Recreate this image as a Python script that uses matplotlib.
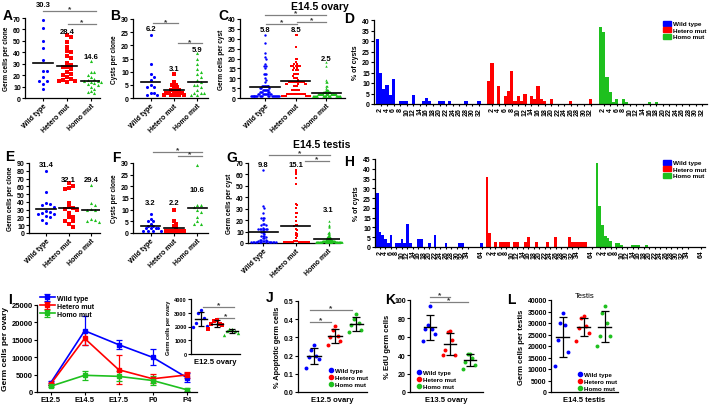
import numpy as np
import matplotlib
matplotlib.use('Agg')
import matplotlib.pyplot as plt
from matplotlib.patches import Patch
from matplotlib.lines import Line2D

plt.rcParams['font.family'] = ['Liberation Sans', 'DejaVu Sans']
plt.rcParams['font.weight'] = 'bold'
plt.rcParams['axes.labelweight'] = 'bold'
plt.rcParams['axes.linewidth'] = 0.9

# ---------------- data ----------------
groups = ['Wild type', 'Hetero mut', 'Homo mut']

# A  E14.5 ovary: germ cells per clone
a_wt = [68, 61, 50, 44, 33, 24, 24, 18, 15, 15, 12, 8]
a_het = [55, 53, 49, 45, 41, 40, 37, 35, 31, 29, 27, 27, 25, 23, 21, 20, 18, 17, 16, 15, 15, 14]
a_homo = [32, 23, 23, 20, 18, 17, 16, 15, 15, 14, 14, 13, 12, 11, 10, 8, 6, 5, 4]
a_means = [30.3, 28.4, 14.6]

# B  E14.5 ovary: cysts per clone
b_wt = [24, 13, 9, 8, 7, 5, 4, 4, 2, 2, 1, 1]
b_het = [9, 6, 5, 5, 4, 4, 3, 3, 3, 3, 2, 2, 2, 2, 2, 2, 2, 1, 1, 1, 1, 1, 1]
b_homo = [17, 15, 13, 11, 10, 9, 8, 7, 6, 5, 5, 4, 3, 2, 2, 2, 1, 1]
b_means = [6.2, 3.1, 5.9]

# C / D  E14.5 ovary: number of cysts of each size (germ cells per cyst 1..32)
cyst_sizes = [1, 2, 3, 4, 5, 6, 7, 8, 9, 10, 11, 12, 13, 14, 15, 16,
              17, 18, 19, 20, 21, 22, 23, 24, 25, 26, 27, 28, 29, 30, 31, 32]
c_wt_counts = [21, 10, 5, 6, 3, 8, 0, 1, 1, 1, 0, 3, 0, 0, 1, 2,
               1, 0, 0, 1, 1, 0, 1, 0, 0, 0, 0, 1, 0, 0, 0, 1]
c_het_counts = [9, 16, 0, 7, 0, 3, 5, 13, 1, 3, 1, 4, 0, 3, 2, 7,
                2, 1, 0, 2, 0, 0, 0, 0, 0, 1, 0, 0, 0, 0, 0, 2]
c_homo_counts = [31, 29, 11, 5, 1, 2, 0, 2, 1, 0, 0, 0, 0, 0, 0, 1,
                 0, 1, 0, 0, 0, 0, 0, 0, 0, 0, 0, 0, 0, 0, 0, 0]
c_means = [5.8, 8.5, 2.5]
d_tick_values = [2, 4, 6, 8, 10, 12, 14, 16, 18, 20, 22, 24, 26, 28, 30, 32]

# E  E14.5 testis: germ cells per clone
e_wt = [80, 53, 38, 37, 36, 33, 28, 27, 26, 25, 24, 22, 20, 17, 13]
e_het = [64, 60, 58, 57, 39, 33, 32, 31, 30, 26, 21, 20, 16, 15, 12, 8]
e_homo = [62, 38, 36, 31, 30, 29, 18, 17, 15, 14]
e_means = [31.4, 32.1, 29.4]

# F  E14.5 testis: cysts per clone
f_wt = [8, 6, 5, 5, 4, 3, 3, 2, 2, 2, 2, 1, 1, 1, 1]
f_het = [10, 5, 4, 3, 2, 1, 1, 1, 1, 1, 1, 1, 1, 1]
f_homo = [29, 12, 12, 11, 10, 9, 7, 5, 4, 4]
f_means = [3.2, 2.2, 10.6]

# G  E14.5 testis: germ cells per cyst (value, number of cysts)
g_wt_vals = [1, 2, 3, 4, 5, 6, 8, 9, 10, 11, 12, 13, 16, 17, 20, 22, 26, 31, 32, 64]
g_wt_counts = [14, 4, 3, 2, 1, 3, 1, 1, 2, 1, 6, 1, 2, 2, 1, 3, 1, 1, 1, 1]
g_het_vals = [1, 2, 4, 6, 7, 8, 9, 11, 12, 15, 16, 19, 23, 26, 31, 33, 34, 52, 57, 60, 62, 64]
g_het_counts = [15, 3, 1, 1, 1, 1, 1, 1, 1, 1, 2, 1, 1, 2, 1, 1, 1, 1, 1, 1, 1, 1]
g_homo_vals = [1, 2, 3, 4, 5, 6, 8, 9, 10, 14, 15, 16, 19]
g_homo_counts = [47, 23, 12, 6, 5, 3, 2, 2, 1, 1, 1, 1, 1]
g_means = [9.8, 15.1, 3.1]

# H  E14.5 testis: % of cysts per size bin (bins 1..38, last bin = 64)
h_wt_pct = [27.5, 7.8, 5.9, 3.9, 2.0, 5.9, 0, 2.0, 2.0, 3.9, 2.0, 11.8, 2.0, 0, 0, 3.9, 3.9, 0, 0, 2.0,
            0, 5.9, 0, 0, 0, 2.0, 0, 0, 0, 0, 2.0, 2.0, 0, 0, 0, 0, 0, 0, 2.0]
h_het_pct = [35.6, 7.3, 0, 2.4, 0, 2.4, 2.4, 2.4, 2.4, 0, 2.4, 2.4, 0, 0, 2.4, 5.0, 0, 0, 2.4, 0,
             0, 0, 2.4, 0, 0, 5.0, 0, 0, 0, 0, 5.0, 2.4, 2.4, 2.4, 2.4, 2.4, 2.4, 0, 0]
h_homo_pct = [43.2, 21.0, 11.1, 5.6, 4.4, 3.2, 0, 1.9, 1.9, 0.9, 0, 0, 0, 0.9, 0.9, 0.9, 0, 0, 0.9, 0,
              0, 0, 0, 0, 0, 0, 0, 0, 0, 0, 0, 0, 0, 0, 0, 0, 0, 0, 0]
h_tick_labels = ['2', '4', '6', '8', '10', '12', '14', '16', '18', '20', '22', '24', '26', '28',
                 '30', '32', '34', '64']

# I  germ cells per ovary over time
i_times = ['E12.5', 'E14.5', 'E17.5', 'P0', 'P4']
i_wt = [2600, 17600, 13600, 9950, 4150]
i_wt_err = [500, 4200, 1250, 2300, 1300]
i_het = [2250, 15400, 6400, 3800, 4900]
i_het_err = [350, 1900, 4100, 1300, 950]
i_homo = [1650, 4800, 4500, 3300, 650]
i_homo_err = [300, 1300, 1400, 1200, 500]
# I inset  E12.5 ovary
ins_wt = [3200, 3000, 2600, 2250, 2050, 2000]
ins_het = [2500, 2400, 2200, 2150, 2100, 1800]
ins_homo = [1850, 1800, 1700, 1650, 1550, 1400]

# J  % apoptotic germ cells, E12.5 ovary
j_wt = [0.26, 0.23, 0.20, 0.19, 0.18, 0.13]
j_het = [0.36, 0.34, 0.31, 0.30, 0.28, 0.26]
j_homo = [0.43, 0.40, 0.38, 0.37, 0.34, 0.33]

# K  % EdU germ cells, E13.5 ovary
k_wt = [94, 73, 68, 68, 63, 55]
k_het = [66, 65, 56, 46, 40, 40]
k_homo = [41, 41, 37, 33, 29, 25]

# L  germ cells per testis, E14.5 testis
l_wt = [34200, 29850, 29000, 22460, 17390, 11300]
l_het = [33040, 32030, 28700, 27680, 25800, 22170]
l_homo = [37390, 34200, 30140, 24350, 24350, 20000]

# ---------------- style ----------------
BLUE = '#0000ff'
RED = '#ff0000'
GREEN = '#1ec01e'
COLORS = [BLUE, RED, GREEN]
MARKERS = ['o', 's', '^']
SIGC = '#808080'

FW, FH = 712, 406
fig = plt.figure(figsize=(FW / 100, FH / 100), dpi=100)


def px_axes(x0, y0, x1, y1):
    return fig.add_axes([x0 / FW, 1 - y1 / FH, (x1 - x0) / FW, (y1 - y0) / FH])


def style(ax, ls=5):
    for s in ('top', 'right'):
        ax.spines[s].set_visible(False)
    ax.tick_params(direction='out', length=2, width=0.8, labelsize=ls, pad=1)


def swarm(vals, ppy, d, maxw):
    vals = np.asarray(vals, float)
    ys = vals * ppy
    order = np.argsort(-vals, kind='stable')
    placed = []
    offs = np.zeros(len(vals))
    for idx in order:
        y = ys[idx]
        k = 0
        while True:
            c = 0.0 if k == 0 else ((k + 1) // 2) * d * (1 if k % 2 else -1)
            if all((c - px) ** 2 + (y - py) ** 2 >= 0.95 * d * d for px, py in placed):
                break
            k += 1
        placed.append((c, y))
        offs[idx] = c
    m = np.abs(offs).max()
    if m > maxw:
        offs *= maxw / m
    return offs


def sig(ax, x1, x2, y, star_dy=0.0):
    ax.plot([x1, x2], [y, y], color=SIGC, lw=0.9, clip_on=False, zorder=2)
    ax.text((x1 + x2) / 2, y + star_dy, '*', ha='center', va='center', fontsize=6,
            color='#333333', clip_on=False)


def dot_panel(box, series, means, ylim, yticks, ylabel, label_y, xlim,
              d=4.0, maxw=10, s=5, hw=0.42):
    x0, y0, x1, y1 = box
    ax = px_axes(*box)
    ppx = (x1 - x0) / (xlim[1] - xlim[0])
    ppy = (y1 - y0) / (ylim[1] - ylim[0])
    for i, vals in enumerate(series):
        vals = np.asarray(vals, float)
        off = swarm(vals, ppy, d, maxw) / ppx
        ax.scatter(i + off, vals, s=s, marker=MARKERS[i], c=COLORS[i], linewidths=0,
                   clip_on=False, zorder=3)
        ax.plot([i - hw, i + hw], [means[i]] * 2, color='k', lw=1.2, zorder=4)
        ax.text(i, label_y[i], f'{means[i]:.1f}', ha='center', va='center', fontsize=5.5,
                clip_on=False)
    ax.set_xlim(*xlim)
    ax.set_ylim(*ylim)
    ax.set_yticks(yticks)
    ax.set_xticks(range(3))
    ax.set_xticklabels(groups, rotation=45, ha='right', rotation_mode='anchor')
    ax.set_ylabel(ylabel, fontsize=4.7, labelpad=2)
    style(ax)
    return ax


def hist_panel(box, pct_list, offset, npos, ticks, ticklabels, ylim, yticks, xlim, tfs=3.3):
    ax = px_axes(*box)
    for g, pct in enumerate(pct_list):
        x = g * offset + np.arange(1, npos + 1)
        ax.bar(x, pct, width=1.0, color=COLORS[g], linewidth=0)
    tpos, tlab = [], []
    for g in range(3):
        tpos += [g * offset + t for t in ticks]
        tlab += ticklabels
    ax.set_xticks(tpos)
    ax.set_xticklabels(tlab, rotation=90, fontsize=tfs)
    ax.set_xlim(*xlim)
    ax.set_ylim(*ylim)
    ax.set_yticks(yticks)
    ax.set_ylabel('% of cysts', fontsize=5, labelpad=2)
    style(ax)
    ax.tick_params(axis='x', length=1.5, pad=0.5)
    handles = [Patch(facecolor=c, edgecolor=c) for c in COLORS]
    ax.legend(handles, groups, loc='upper left', fontsize=4.6, frameon=False,
              handlelength=1.3, handleheight=0.9, handletextpad=0.3, labelspacing=0.1,
              borderaxespad=0, bbox_to_anchor=(660 / FW, 1 - (box[1] - 2) / FH),
              bbox_transform=fig.transFigure)
    return ax


# ---------------- row 1 : E14.5 ovary ----------------
axA = dot_panel((25, 19, 100, 99), [a_wt, a_het, a_homo], a_means, (0, 70),
                range(0, 71, 10), 'Germ cells per clone', [82.2, 58.6, 36.7], (-0.75, 2.38))
sig(axA, 0.0, 2.2, 76.4, 1.6)
sig(axA, 1.05, 2.2, 64.7, 1.6)

axB = dot_panel((133, 20, 208, 99), [b_wt, b_het, b_homo], b_means, (0, 30),
                range(0, 31, 5), 'Cysts per clone', [26.5, 11.3, 18.3], (-0.75, 2.45), d=3.4)
sig(axB, 0.1, 1.15, 28.4, 0.7)
sig(axB, 1.15, 2.2, 20.8, 0.7)


def expand(vals, counts):
    return np.repeat(np.asarray(vals, float), counts)


c_series = [expand(cyst_sizes, c) for c in (c_wt_counts, c_het_counts, c_homo_counts)]
axC = dot_panel((240, 20, 345, 99), c_series, c_means, (0, 40), range(0, 41, 5),
                'Germ cells per cyst', [34.6, 34.6, 20.2], (-0.8, 2.6), d=2.2, maxw=14, s=3,
                hw=0.48)
sig(axC, 0.0, 2.0, 42.0, 1.0)
sig(axC, 0.04, 1.03, 37.5, 1.0)
sig(axC, 1.03, 2.0, 38.7, 1.0)

d_pct = [np.asarray(c, float) / np.sum(c) * 100 for c in (c_wt_counts, c_het_counts, c_homo_counts)]
axD = hist_panel((374, 21, 707, 105), d_pct, 34, 32, d_tick_values,
                 [str(v) for v in d_tick_values], (0, 40), range(0, 41, 5), (0, 101.5))

fig.text(320 / FW, 1 - 7 / FH, 'E14.5 ovary', ha='center', va='center', fontsize=7.5)

# ---------------- row 2 : E14.5 testis ----------------
axE = dot_panel((29, 164, 100, 234), [e_wt, e_het, e_homo], e_means, (0, 90),
                range(0, 91, 10), 'Germ cells per clone', [88.7, 68.2, 68.2], (-0.75, 2.38))

axF = dot_panel((133, 164, 208, 234), [f_wt, f_het, f_homo], f_means, (0, 30),
                range(0, 31, 5), 'Cysts per clone', [13.1, 13.1, 18.8], (-0.75, 2.45), d=3.4)
sig(axF, 0.1, 2.2, 34.8, 0.8)
sig(axF, 1.15, 2.2, 33.0, 0.8)

g_series = [expand(v, c) for v, c in ((g_wt_vals, g_wt_counts), (g_het_vals, g_het_counts),
                                       (g_homo_vals, g_homo_counts))]
axG = dot_panel((248, 164, 340, 244), g_series, g_means, (0, 70), range(0, 71, 10),
                'Germ cells per cyst', [69.1, 69.1, 29.1], (-0.45, 2.35), d=2.2, maxw=13, s=3,
                hw=0.45)
sig(axG, 0.2, 2.05, 77.0, 1.8)
sig(axG, 1.28, 2.0, 72.0, 1.8)

h_ticks = [2, 4, 6, 8, 10, 12, 14, 16, 18, 20, 22, 24, 26, 28, 30, 32, 34, 39]
axH = hist_panel((375, 160, 705, 248), [h_wt_pct, h_het_pct, h_homo_pct], 40, 39, h_ticks,
                 h_tick_labels, (0, 45), range(0, 46, 5), (0.2, 120.3), tfs=2.9)

fig.text(322 / FW, 1 - 145 / FH, 'E14.5 testis', ha='center', va='center', fontsize=7.5)

# ---------------- row 3 ----------------
axI = px_axes(37, 306, 197, 393)
xi = np.arange(len(i_times))
for vals, errs, col, lab in ((i_wt, i_wt_err, BLUE, groups[0]), (i_het, i_het_err, RED, groups[1]),
                             (i_homo, i_homo_err, GREEN, groups[2])):
    axI.errorbar(xi, vals, yerr=errs, color=col, marker='s', ms=2.5, lw=1.2, capsize=2,
                 elinewidth=0.9, capthick=0.9, label=lab)
axI.set_xlim(-0.4, 4.3)
axI.set_ylim(0, 25000)
axI.set_yticks(range(0, 25001, 5000))
axI.set_xticks(xi)
axI.set_xticklabels(i_times)
axI.set_ylabel('Germ cells per ovary', fontsize=6, labelpad=2)
style(axI, 5.5)
axI.legend(loc='upper left', fontsize=5, frameon=False, handlelength=2.2, handletextpad=0.3,
           labelspacing=0.15, borderaxespad=0, bbox_to_anchor=(37 / FW, 1 - 293 / FH),
           bbox_transform=fig.transFigure)


def sd_panel(box, series, ylim, yticks, ylabel, xlim, xlabel, marker_list=None, s=8,
             hw=0.32, cap=2.8, dx=0.12, ls=5, ylfs=5):
    ax = px_axes(*box)
    for i, vals in enumerate(series):
        vals = np.asarray(vals, float)
        m = vals.mean()
        sd = vals.std(ddof=1)
        n = len(vals)
        offs = np.array([(-1) ** k * ((k + 1) // 2) for k in range(n)], float) * dx
        order = np.argsort(-vals)
        xs = np.empty(n)
        xs[order] = i + offs
        mk = marker_list[i] if marker_list else 'o'
        ax.scatter(xs, vals, s=s, marker=mk, c=COLORS[i], linewidths=0, zorder=3)
        ax.plot([i - hw, i + hw], [m, m], color='k', lw=1.0, zorder=4)
        ax.errorbar([i], [m], yerr=[sd], color='k', lw=0.9, capsize=cap, capthick=0.9, zorder=4)
    ax.set_xlim(*xlim)
    ax.set_ylim(*ylim)
    ax.set_yticks(yticks)
    ax.set_xticks([])
    ax.set_xlabel(xlabel, fontsize=5.5, labelpad=3)
    ax.set_ylabel(ylabel, fontsize=ylfs, labelpad=2)
    style(ax, ls)
    return ax


axIn = sd_panel((191, 300, 240, 355), [ins_wt, ins_het, ins_homo], (0, 4000),
                range(0, 4001, 1000), 'Germ cells per ovary', (-0.66, 2.5), 'E12.5 ovary',
                marker_list=MARKERS, s=6, hw=0.4, cap=2.2, dx=0.18, ls=4, ylfs=4)
sig(axIn, 0.1, 2.1, 3400, 150)
sig(axIn, 1.0, 2.1, 2600, 150)

axJ = sd_panel((298, 302, 367, 393), [j_wt, j_het, j_homo], (0, 0.5),
               [0.0, 0.1, 0.2, 0.3, 0.4, 0.5], '% Apoptotic germ cells', (-0.75, 2.5),
               'E12.5 ovary', ylfs=5.3)
axJ.yaxis.set_major_formatter(matplotlib.ticker.FormatStrFormatter('%.1f'))
sig(axJ, -0.2, 1.8, 0.45, 0.012)
sig(axJ, -0.2, 0.8, 0.385, 0.012)

axK = sd_panel((410, 301, 483, 393), [k_wt, k_het, k_homo], (0, 100),
               range(0, 101, 20), '% EdU germ cells', (-1.0, 2.65), 'E13.5 ovary', ylfs=5.5)
sig(axK, 0.0, 1.0, 103, 2.5)
sig(axK, 0.0, 1.9, 97.5, 2.5)

axL = sd_panel((551, 301, 618, 393), [l_wt, l_het, l_homo], (0, 40000),
               range(0, 40001, 5000), 'Germ cells per testis', (-0.56, 2.63), 'E14.5 testis',
               ylfs=5.5)
axL.set_title('Testis', fontsize=5.5, pad=2)

for ax, xy in ((axJ, (326, 366)), (axK, (414, 368)), (axL, (575, 370))):
    handles = [Line2D([], [], marker='o', ls='', color=c, ms=3) for c in COLORS]
    ax.legend(handles, groups, loc='upper left', fontsize=4.5, frameon=False,
              handlelength=0.8, handletextpad=0.2, labelspacing=0.25, borderaxespad=0,
              bbox_to_anchor=(xy[0] / FW, 1 - xy[1] / FH), bbox_transform=fig.transFigure)

# ---------------- panel letters ----------------
for letter, (px, py) in {'A': (3, 16), 'B': (110, 16), 'C': (218, 16), 'D': (344, 19),
                         'E': (5, 157), 'F': (112, 158), 'G': (226, 158), 'H': (344, 162),
                         'I': (8, 300), 'J': (266, 298), 'K': (385, 300), 'L': (507, 300)}.items():
    fig.text(px / FW, 1 - py / FH, letter, fontsize=10, ha='left', va='center')

fig.savefig('out.png', dpi=100)
